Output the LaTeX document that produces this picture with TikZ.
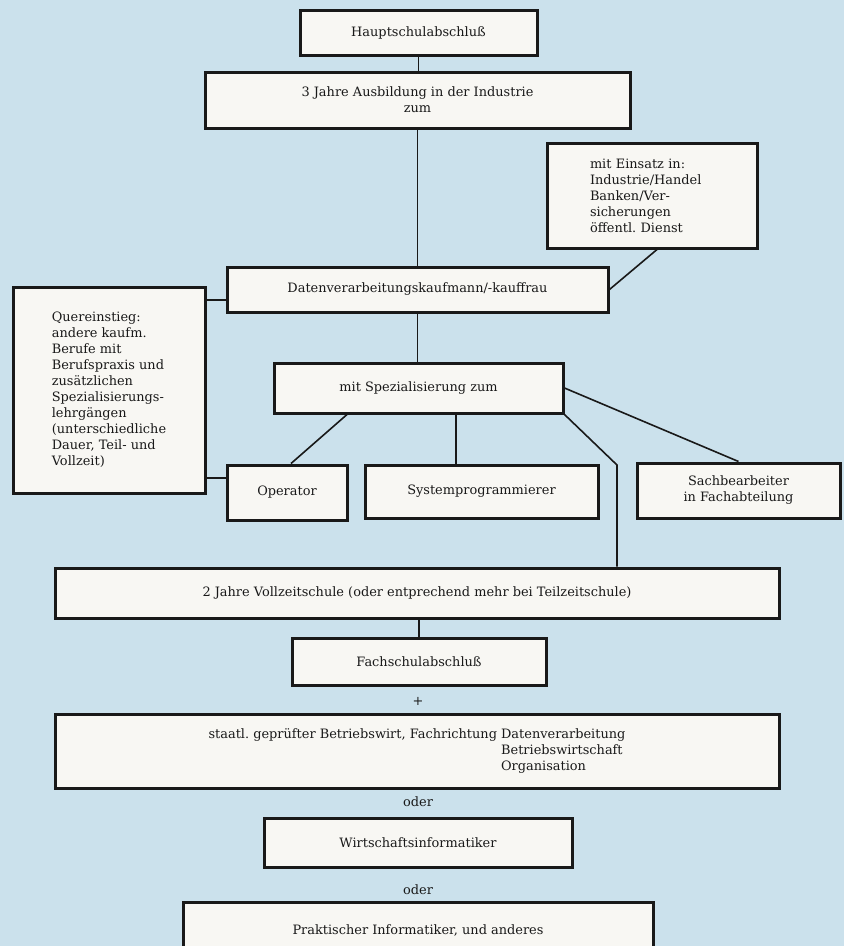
\documentclass[tikz,border=0pt]{standalone}
\usepackage{fontspec}
\setmainfont{DejaVu Serif}
\definecolor{bg}{RGB}{203,225,236}
\definecolor{boxfill}{RGB}{248,247,243}
\definecolor{ink}{RGB}{25,25,25}
\newsavebox\probe
\frenchspacing
\begin{document}
\sbox\probe{\fontsize{10pt}{12pt}\selectfont 2 Jahre Vollzeitschule (oder entprechend mehr bei Teilzeitschule)}%
\pgfmathsetmacro\fs{10*429/\the\wd\probe}%
\newcommand\myfont{\fontsize{\fs pt}{16pt}\selectfont\frenchspacing}%
\begin{tikzpicture}[x=1pt,y=-1pt,
  box/.style={draw=ink, line width=3pt, fill=boxfill, inner sep=0pt, text=ink, font=\myfont, align=center},
  conn/.style={draw=ink, line width=1.6pt},
  lbl/.style={text=ink, font=\myfont, inner sep=0pt}]
\fill[bg] (0,0) rectangle (844,946);
\useasboundingbox (0,0) rectangle (844,946);

\node[box, minimum width=237pt, minimum height=45pt] (haupt) at (418.5,32.5) {Hauptschulabschluß};
\node[box, minimum width=425pt, minimum height=56pt] (ausb) at (417.5,100) {3 Jahre Ausbildung in der Industrie\\zum};
\node[box, minimum width=210pt, minimum height=105pt, text width=124pt, align=left] (einsatz) at (652,195.5) {mit Einsatz in:\\Industrie/Handel\\Banken/Ver-\\sicherungen\\öffentl.\ Dienst};
\node[box, minimum width=381pt, minimum height=45pt] (dv) at (417.5,289.5) {Datenverarbeitungskaufmann/-kauffrau};
\node[box, minimum width=192pt, minimum height=206pt, align=left] (quer) at (109,390) {Quereinstieg:\\andere kaufm.\\Berufe mit\\Berufspraxis und\\zusätzlichen\\Spezialisierungs-\\lehrgängen\\(unterschiedliche\\Dauer, Teil- und\\Vollzeit)};
\node[box, minimum width=289pt, minimum height=50pt] (spez) at (418.5,388) {mit Spezialisierung zum};
\node[box, minimum width=120pt, minimum height=55pt] (op) at (287,492.5) {Operator};
\node[box, minimum width=233pt, minimum height=53pt] (sys) at (481.5,491.5) {Systemprogrammierer};
\node[box, minimum width=203pt, minimum height=55pt] (sach) at (738.5,490.5) {Sachbearbeiter\\in Fachabteilung};
\node[box, minimum width=724pt, minimum height=50pt] (zwei) at (417,593) {2 Jahre Vollzeitschule (oder entprechend mehr bei Teilzeitschule)};
\node[box, minimum width=254pt, minimum height=47pt] (fach) at (419,661.5) {Fachschulabschluß};
\node[lbl] (plus) at (418,701) {+};
\node[box, minimum width=724pt, minimum height=74pt] (staatl) at (417,751) {\begin{tabular}{@{}r@{ }l@{}}staatl.\ geprüfter Betriebswirt, Fachrichtung & Datenverarbeitung\\ & Betriebswirtschaft\\ & Organisation\end{tabular}};
\node[lbl] (oder1) at (418,802) {oder};
\node[box, minimum width=308pt, minimum height=49pt] (wi) at (418,842.5) {Wirtschaftsinformatiker};
\node[lbl] (oder2) at (418,890) {oder};
\node[box, minimum width=470pt, minimum height=60pt, anchor=north] (prak) at (418,901) {\raisebox{6pt}{Praktischer Informatiker, und anderes}};

\draw[conn] (haupt.south) -- (haupt.south |- ausb.north);
\draw[conn] (ausb.south) -- (ausb.south |- dv.north);
\draw[conn] ([xshift=5pt]einsatz.south) -- (dv.east);
\draw[conn] ([yshift=-10.5pt]dv.west) -- ([yshift=-10.5pt]dv.west -| quer.east);
\draw[conn] (dv.south) -- (dv.south |- spez.north);
\draw[conn] ([yshift=14.5pt]op.west) -- ([yshift=14.5pt]op.west -| quer.east);
\draw[conn] ([xshift=-71.5pt]spez.south) -- ([xshift=4pt]op.north);
\draw[conn] ([xshift=37.5pt]spez.south) -- ([xshift=37.5pt]spez.south |- sys.north);
\draw[conn] (spez.east) -- (sach.north);
\coordinate (bend) at (617,465);
\draw[conn] (spez.south east) -- (bend) -- (bend |- zwei.north);
\draw[conn] (fach.north) -- (fach.north |- zwei.south);
\end{tikzpicture}
\end{document}
